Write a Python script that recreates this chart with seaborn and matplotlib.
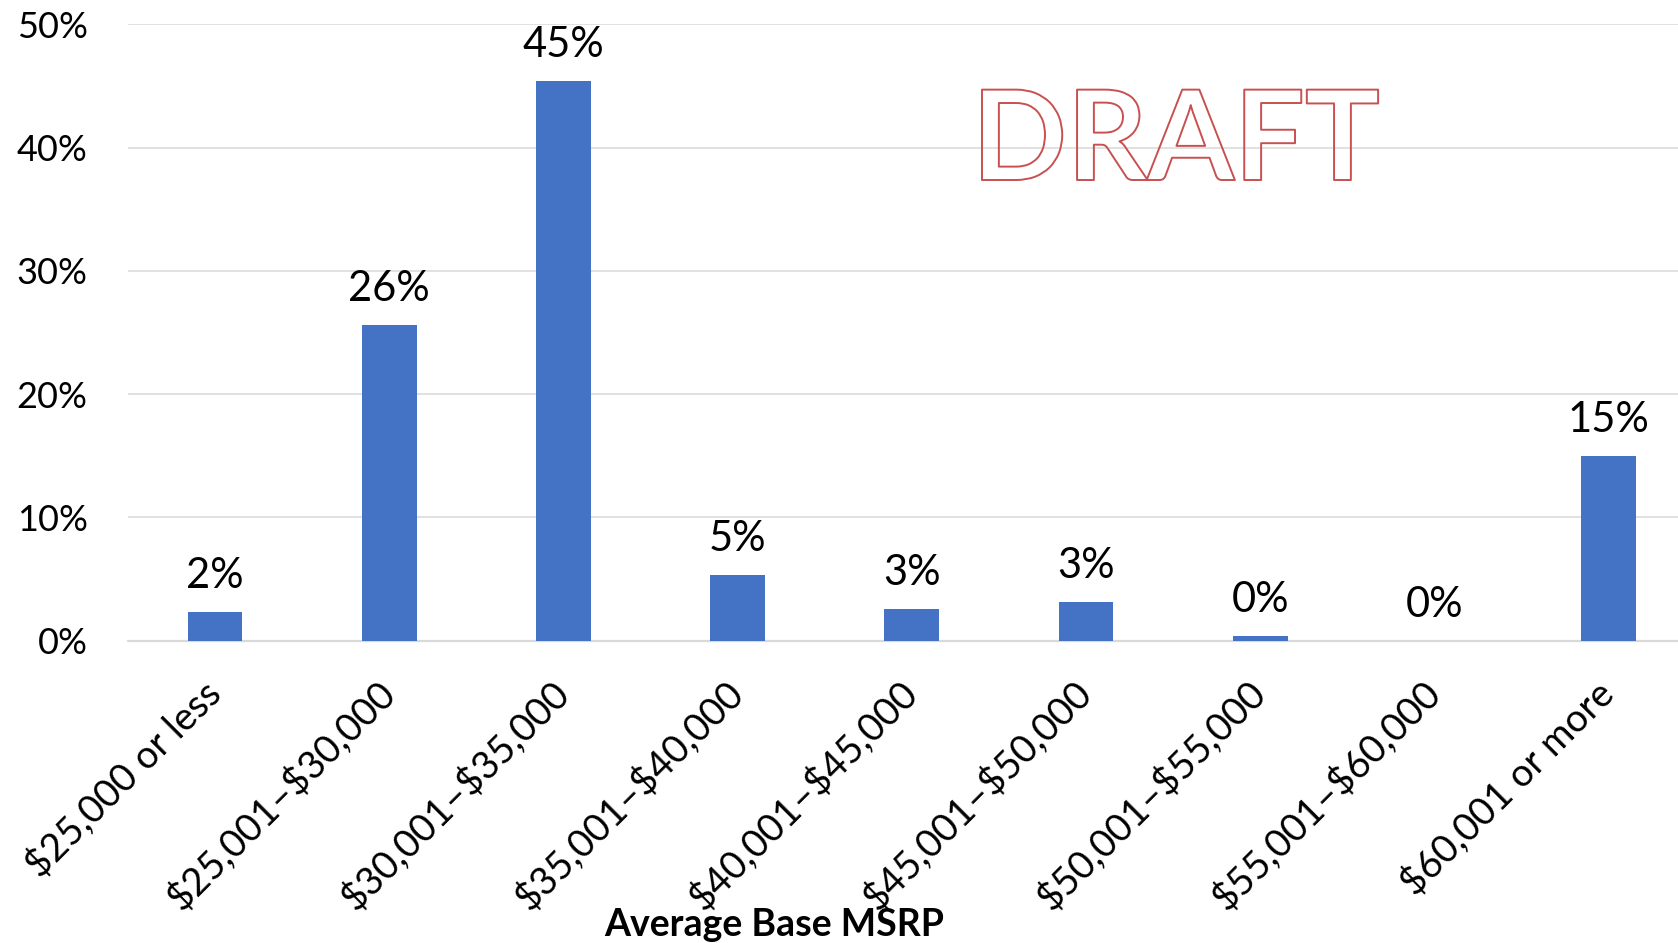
import matplotlib
matplotlib.use("Agg")
import matplotlib.pyplot as plt
import seaborn as sns
from matplotlib import patheffects

# Share of models by average base MSRP bracket (percent)
categories = [
    "$25,000 or less",
    "$25,001–$30,000",
    "$30,001–$35,000",
    "$35,001–$40,000",
    "$40,001–$45,000",
    "$45,001–$50,000",
    "$50,001–$55,000",
    "$55,001–$60,000",
    "$60,001 or more",
]
shares = [2.3, 25.6, 45.4, 5.35, 2.6, 3.1, 0.36, 0.0, 15.0]
y_ticks = [0, 10, 20, 30, 40, 50]
x_title = "Average Base MSRP"
watermark = "DRAFT"

sns.set_theme(style="white")
plt.rcParams["font.family"] = ["Lato", "DejaVu Sans"]
plt.rcParams["text.parse_math"] = False  # dollar signs are literal

W, H = 1678, 943
fig = plt.figure(figsize=(W / 100, H / 100), dpi=100)
ax = fig.add_axes([128 / W, 1 - 640.7 / H, (1695.6 - 128) / W, (640.7 - 24.3) / H])

sns.barplot(x=categories, y=shares, color="#4472C4", saturation=1,
            width=0.314, edgecolor="none", ax=ax)

ax.set_xlim(-0.5, 8.5)
ax.set_ylim(0, 50)
ax.set_yticks(y_ticks)
ax.set_yticklabels([f"{t}%" for t in y_ticks])
for sp in ax.spines.values():
    sp.set_visible(False)
ax.grid(axis="y", color="#d9d9d9", linewidth=1.1)
ax.grid(axis="x", visible=False)
ax.set_axisbelow(True)
ax.axhline(0, color="#d9d9d9", linewidth=1.6, clip_on=False, zorder=0.5)

ax.tick_params(axis="y", length=0, pad=29, labelsize=26, labelcolor="black")
ax.tick_params(axis="x", length=0, pad=34, labelsize=27.5, labelcolor="black")
plt.setp(ax.get_xticklabels(), rotation=45, ha="right", va="center",
         rotation_mode="anchor")
ax.set_xlabel("")
ax.set_ylabel("")

# value labels above each bar
for patch, value in zip(ax.patches, shares):
    cx = patch.get_x() + patch.get_width() / 2
    ax.annotate(f"{value:.0f}%", (cx, patch.get_height()),
                xytext=(0, 17.3), textcoords="offset points",
                ha="center", va="baseline", fontsize=30, color="black",
                annotation_clip=False)

fig.text(774 / W, 1 - 936 / H, x_title, ha="center", va="baseline",
         fontsize=27, fontweight="bold", color="black")

# outlined watermark
fig.text(1176 / W, 1 - 180 / H, watermark, ha="center", va="baseline",
         fontsize=90, fontweight="bold", color="none",
         path_effects=[patheffects.Stroke(linewidth=1.4, foreground="#c85050")])

fig.savefig("out.png", dpi=100)
